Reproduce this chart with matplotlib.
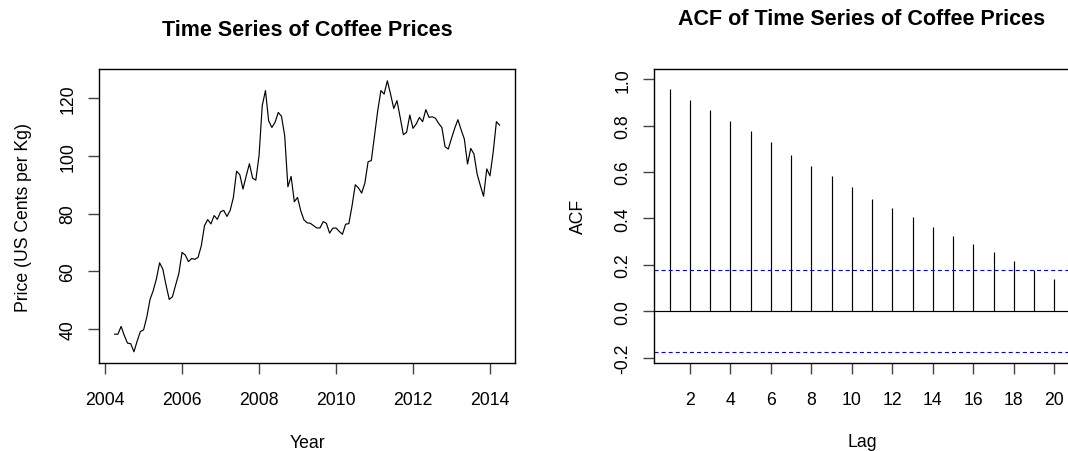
import matplotlib
matplotlib.use("Agg")
import matplotlib.pyplot as plt
import numpy as np

plt.rcParams['font.family'] = ['Liberation Sans', 'DejaVu Sans']
plt.rcParams['lines.scale_dashes'] = False

# Precios mensuales del café (centavos USD por kg), abril 2004 - abril 2014
inicio = 2004.25
precios = [38.1, 38.1, 40.8, 37.6, 35.0, 34.8, 32.0, 35.7, 39.0, 39.6,
           44.0, 50.1, 53.2, 57.3, 62.9, 60.7, 55.2, 50.2, 51.1, 55.2,
           59.2, 66.5, 65.6, 63.3, 64.4, 64.1, 64.8, 68.8, 75.8, 77.9,
           76.4, 79.3, 78.0, 80.6, 81.1, 79.0, 81.1, 85.6, 94.7, 93.5,
           88.5, 93.1, 97.3, 92.3, 91.6, 100.1, 117.5, 122.7, 112.2, 109.9,
           111.7, 115.1, 113.8, 107.0, 89.3, 92.9, 84.1, 85.6, 81.0, 77.8,
           76.8, 76.6, 75.8, 75.0, 75.0, 77.2, 76.6, 73.2, 74.9, 75.0,
           73.8, 72.8, 76.3, 76.5, 82.7, 90.0, 88.9, 87.1, 90.6, 98.0,
           98.4, 107.0, 115.7, 122.7, 121.5, 126.1, 121.5, 116.5, 119.2, 113.4,
           107.4, 108.2, 114.2, 109.6, 111.1, 113.4, 111.9, 116.1, 113.4, 113.6,
           113.1, 111.3, 109.9, 103.2, 102.4, 106.1, 109.6, 112.6, 109.1, 105.9,
           97.2, 102.6, 100.7, 93.7, 89.7, 86.0, 95.5, 93.1, 101.3, 111.9,
           110.7]
anios_ticks = [2004, 2006, 2008, 2010, 2012, 2014]
precio_ticks = [40, 60, 80, 100, 120]

# Autocorrelación por rezago y banda de confianza
rezagos = list(range(1, 21))
acf_vals = [0.958, 0.911, 0.866, 0.821, 0.778, 0.729, 0.675, 0.628, 0.584, 0.535,
            0.485, 0.446, 0.405, 0.364, 0.325, 0.289, 0.255, 0.216, 0.177, 0.140]
banda = 0.178
rezago_ticks = [2, 4, 6, 8, 10, 12, 14, 16, 18, 20]
acf_ticks = [-0.2, 0.0, 0.2, 0.4, 0.6, 0.8, 1.0]

tiempo = inicio + np.arange(len(precios)) / 12

W, H = 1068, 452
fs = 12.7
fs_titulo = 15.5
fig = plt.figure(figsize=(W / 100, H / 100), dpi=100)
ax1 = fig.add_axes([99.3 / W, 1 - 364 / H, 415.7 / W, 294 / H])
ax2 = fig.add_axes([654.3 / W, 1 - 364.3 / H, 415.3 / W, 294.8 / H])


def estilo(ax):
    for s in ax.spines.values():
        s.set_linewidth(1)
        s.set_color('black')
    ax.tick_params(direction='out', length=8, width=1, color='#444444',
                   labelsize=fs)
    ax.tick_params(axis='x', pad=12)
    ax.tick_params(axis='y', pad=8.5, labelrotation=90)
    for lab in ax.get_yticklabels():
        lab.set_va('center')


# Serie de tiempo
ax1.plot(tiempo, precios, color='black', lw=0.85)
ax1.set_xlim(2003.85, 2014.65)
ax1.set_ylim(28.1, 130.2)
ax1.set_xticks(anios_ticks)
ax1.set_yticks(precio_ticks)
estilo(ax1)
ax1.set_title('Time Series of Coffee Prices', fontsize=fs_titulo,
              fontweight='bold', pad=24.5)
ax1.set_xlabel('Year', fontsize=fs, va='center')
ax1.xaxis.set_label_coords(0.5, (364 - 443) / 294)
ax1.set_ylabel('Price (US Cents per Kg)', fontsize=fs, va='center')
ax1.yaxis.set_label_coords(-0.182, 0.5)

# Función de autocorrelación
ax2.vlines(rezagos, 0, acf_vals, color='black', lw=0.85)
ax2.axhline(0, color='black', lw=0.85)
ax2.axhline(banda, color='blue', lw=0.8, ls=(0, (2.9, 2.2)))
ax2.axhline(-banda, color='blue', lw=0.8, ls=(0, (2.9, 2.2)))
ax2.set_xlim(0.24, 20.76)
ax2.set_ylim(-0.225, 1.047)
ax2.set_xticks(rezago_ticks)
ax2.set_yticks(acf_ticks)
ax2.set_yticklabels([f'{v:.1f}' for v in acf_ticks])
estilo(ax2)
ax2.spines['right'].set_visible(False)
ax2.set_title('ACF of Time Series of Coffee Prices', fontsize=fs_titulo,
              fontweight='bold', pad=31.7)
ax2.set_xlabel('Lag', fontsize=fs, va='center')
ax2.xaxis.set_label_coords(0.5, (364.3 - 443) / 294.8)
ax2.set_ylabel('ACF', fontsize=fs, va='center')
ax2.yaxis.set_label_coords(-0.182, 0.5)

fig.savefig('out.png', dpi=100)
